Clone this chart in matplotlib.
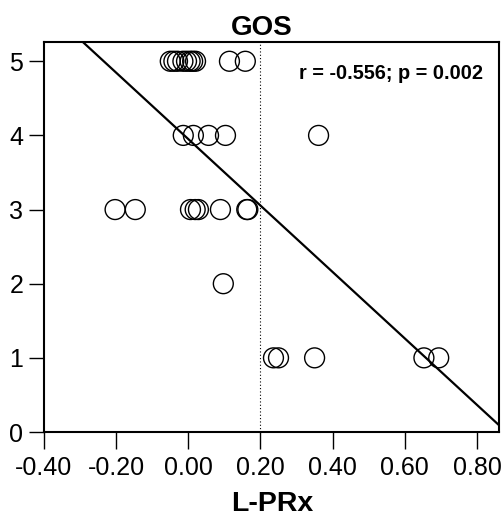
import numpy as np
import matplotlib.pyplot as plt

plt.rcParams['font.family'] = ['Liberation Sans', 'DejaVu Sans']

# L-PRx values grouped by GOS score
lprx_gos5 = [-0.05, -0.04, -0.03, -0.015, -0.005, 0.005, 0.012, 0.02, 0.114, 0.158]
lprx_gos4 = [-0.014, 0.014, 0.056, 0.103, 0.361]
lprx_gos3 = [-0.203, -0.147, 0.006, 0.019, 0.028, 0.089, 0.162, 0.165]
lprx_gos2 = [0.097]
lprx_gos1 = [0.236, 0.25, 0.35, 0.653, 0.694]

# regression line
slope = -4.48
intercept = 3.95

x_ticks = [-0.40, -0.20, 0.00, 0.20, 0.40, 0.60, 0.80]
y_ticks = [0, 1, 2, 3, 4, 5]
cutoff = 0.2

xs = lprx_gos5 + lprx_gos4 + lprx_gos3 + lprx_gos2 + lprx_gos1
ys = ([5] * len(lprx_gos5) + [4] * len(lprx_gos4) + [3] * len(lprx_gos3)
      + [2] * len(lprx_gos2) + [1] * len(lprx_gos1))

fig = plt.figure(figsize=(5.04, 5.17), dpi=100)
ax = fig.add_axes([0.0873, 0.1644, 0.9027, 0.7544])

xlim = (-0.40, 0.861)
ylim = (0, 5.26)

ax.scatter(xs, ys, s=205, facecolors='none', edgecolors='black', linewidths=1.0, zorder=3)

lx = np.array(xlim)
ax.plot(lx, intercept + slope * lx, color='black', lw=1.6, zorder=4)
ax.axvline(cutoff, color='black', lw=0.8, ls=(0, (1, 2)), zorder=2)

ax.text(0.561, 4.84, 'r = -0.556; p = 0.002', fontsize=14.3, fontweight='bold',
        ha='center', va='center')

ax.set_xlim(xlim)
ax.set_ylim(ylim)
ax.set_xticks(x_ticks)
ax.set_xticklabels([f'{v:.2f}' for v in x_ticks])
ax.set_yticks(y_ticks)
ax.tick_params(axis='x', length=12.5, width=1, pad=5, labelsize=18)
ax.tick_params(axis='y', length=11, width=1, pad=4, labelsize=18)
for s in ax.spines.values():
    s.set_linewidth(1.5)

fig.text(0.52, 0.932, 'GOS', fontsize=20, fontweight='bold', ha='center', va='baseline')
fig.text(272 / 504, 0.012, 'L-PRx', fontsize=20.5, fontweight='bold', ha='center', va='baseline')

fig.savefig('out.png', dpi=100)
